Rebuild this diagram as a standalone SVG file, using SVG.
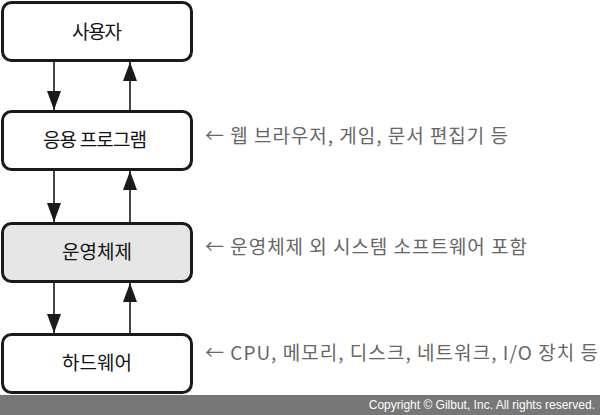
<svg xmlns="http://www.w3.org/2000/svg" width="600" height="415" viewBox="0 0 600 415">
<style>
.box{fill:#fff;stroke:#1a1a1a;stroke-width:3}
.os{fill:#e6e6e6}
.lbl{font-family:"Noto Sans CJK KR","Noto Sans",sans-serif;font-size:19px;fill:#111;text-anchor:middle}
.note{font-family:"Noto Sans CJK KR","Noto Sans",sans-serif;font-size:19px;fill:#666}
.ln{stroke:#1a1a1a;stroke-width:1.6;fill:none}
.copy{font-family:"Liberation Sans",Arial,sans-serif;font-size:12px;fill:#fff;text-anchor:end}
</style>
<defs>
<marker id="ah" viewBox="0 0 19 14" refX="19" refY="7" markerWidth="19" markerHeight="14" markerUnits="userSpaceOnUse" orient="auto">
<path d="M0,0 L19,7 L0,14 Z" fill="#1a1a1a"/>
</marker>
</defs>
<rect width="600" height="415" fill="#fff"/>
<g id="connectors">
<line class="ln" x1="54" y1="62" x2="54" y2="110" marker-end="url(#ah)"/>
<line class="ln" x1="130" y1="110" x2="130" y2="62" marker-end="url(#ah)"/>
<line class="ln" x1="54" y1="171" x2="54" y2="222" marker-end="url(#ah)"/>
<line class="ln" x1="130" y1="222" x2="130" y2="171" marker-end="url(#ah)"/>
<line class="ln" x1="54" y1="283" x2="54" y2="333" marker-end="url(#ah)"/>
<line class="ln" x1="130" y1="333" x2="130" y2="283" marker-end="url(#ah)"/>
</g>
<g id="user">
<rect class="box" x="2.5" y="2.5" width="189" height="58" rx="9"/>
<text class="lbl" x="97" y="39" textLength="50">사용자</text>
</g>
<g id="app">
<rect class="box" x="2.5" y="111.5" width="189" height="58" rx="9"/>
<text class="lbl" x="95" y="147" textLength="104">응용 프로그램</text>
<text class="note" x="205" y="143" textLength="303">← 웹 브라우저, 게임, 문서 편집기 등</text>
</g>
<g id="os">
<rect class="box os" x="2.5" y="223.5" width="189" height="58" rx="9"/>
<text class="lbl" x="97" y="259" textLength="70">운영체제</text>
<text class="note" x="205" y="254" textLength="322">← 운영체제 외 시스템 소프트웨어 포함</text>
</g>
<g id="hw">
<rect class="box" x="2.5" y="334.5" width="189" height="58" rx="9"/>
<text class="lbl" x="97" y="370" textLength="70">하드웨어</text>
<text class="note" x="205" y="360" textLength="393">← CPU, 메모리, 디스크, 네트워크, I/O 장치 등</text>
</g>
<g id="footer">
<rect x="0" y="395" width="600" height="20" fill="#777"/>
<text class="copy" x="595" y="409">Copyright © Gilbut, Inc. All rights reserved.</text>
</g>
</svg>
